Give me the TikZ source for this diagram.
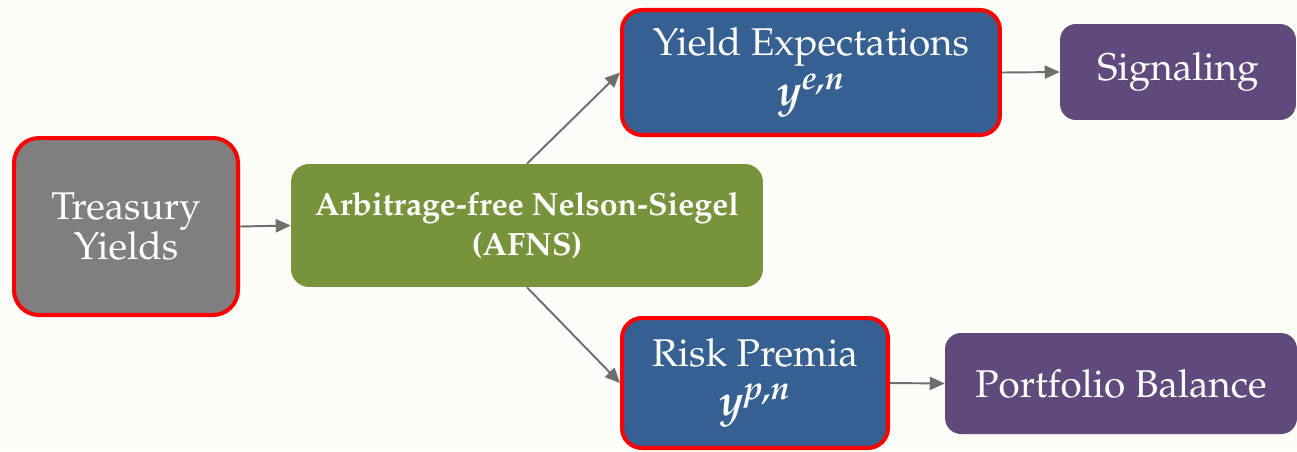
\documentclass[tikz,border=0pt]{standalone}
\usepackage[T1]{fontenc}
\usepackage{mathpazo}
\usepackage{amsmath}
\usetikzlibrary{arrows.meta}
\definecolor{bgcol}{HTML}{FCFDF8}
\definecolor{boxgray}{HTML}{7F7F7F}
\definecolor{boxgreen}{HTML}{77933C}
\definecolor{boxblue}{HTML}{376092}
\definecolor{boxpurple}{HTML}{604A7B}
\definecolor{arrowgray}{HTML}{6E6E6E}
\newcommand{\bfy}[1]{{\fontsize{25}{28}\selectfont$\textbf{\textit{y}}^{\textbf{\textit{#1}}}$}}
\tikzset{
  box/.style={rounded corners=0.4cm, text=white, align=center, inner sep=0pt,
    font=\fontsize{22}{25}\selectfont},
  hilite/.style={draw=red, line width=2.3pt},
  link/.style={draw=arrowgray, line width=1.1pt, -{Triangle[length=8.5pt,width=7.5pt]}}
}
\begin{document}
\begin{tikzpicture}[x=0.02cm, y=-0.02cm]
  \fill[bgcol] (0,0) rectangle (1297,451);
  \useasboundingbox (0,0) rectangle (1297,451);
  \node[box, hilite, fill=boxgray, minimum width=4.48cm, minimum height=3.54cm,
    rounded corners=0.5cm] (treasury) at (126,226.5) {Treasury\\[-2pt]Yields};
  \node[box, fill=boxgreen, minimum width=9.44cm, minimum height=2.46cm,
    rounded corners=0.36cm, font=\fontsize{18.3}{23}\selectfont\bfseries]
    (afns) at (527,225.5) {Arbitrage-free Nelson-Siegel\\(AFNS)};
  \node[box, hilite, fill=boxblue, minimum width=7.56cm, minimum height=2.5cm]
    (expect) at (811,72.5) {Yield Expectations\\[3pt]\bfy{e,n}};
  \node[box, fill=boxpurple, minimum width=4.72cm, minimum height=1.92cm,
    rounded corners=0.32cm] (signal) at (1178,72) {Signaling};
  \node[box, hilite, fill=boxblue, minimum width=5.32cm, minimum height=2.6cm]
    (premia) at (755,383) {Risk Premia\\[3pt]\bfy{p,n}};
  \node[box, fill=boxpurple, minimum width=7.04cm, minimum height=2.02cm,
    rounded corners=0.32cm] (balance) at (1121,383.5) {Portfolio Balance};
  \draw[link] (treasury.east) -- (afns.west);
  \draw[link] (afns.north) -- (expect.west);
  \draw[link] (afns.south) -- (premia.west);
  \draw[link] (expect.east) -- (signal.west);
  \draw[link] (premia.east) -- (balance.west);
\end{tikzpicture}
\end{document}
